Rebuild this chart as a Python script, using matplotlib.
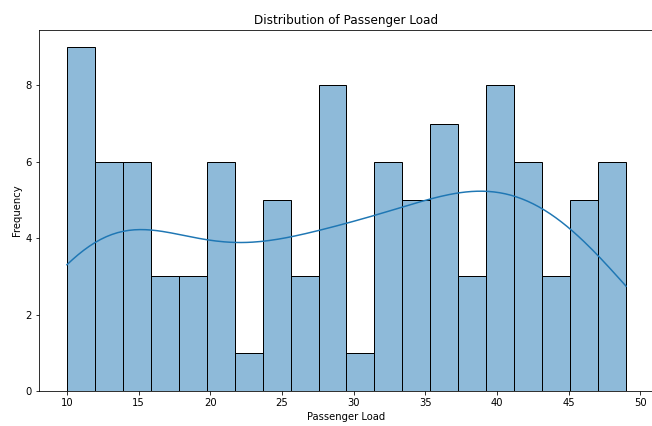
import matplotlib

matplotlib.use("Agg")
import matplotlib.pyplot as plt
import numpy as np
import seaborn as sns

# passenger load values (integers) and how many times each occurs
load_values = [10, 11, 12, 13, 14, 15, 16, 17, 18, 19,
               20, 21, 22, 23, 24, 25, 26, 27, 28, 29,
               30, 31, 32, 33, 34, 35, 36, 37, 38, 39,
               40, 41, 42, 43, 44, 45, 46, 47, 48, 49]
load_counts = [7, 2, 3, 3, 3, 3, 2, 1, 1, 2,
               4, 2, 0, 1, 2, 3, 1, 2, 4, 4,
               0, 1, 3, 3, 1, 4, 2, 5, 0, 3,
               3, 5, 4, 2, 2, 1, 2, 3, 4, 2]

passenger_load = np.repeat(load_values, load_counts)

# right edge of the axes runs just past the image, as in the reference
fig = plt.figure(figsize=(652 / 72, 426 / 72), dpi=72)
ax = fig.add_axes([39 / 652, 35 / 426, 615 / 652, 361 / 426])
sns.histplot(passenger_load, bins=20, kde=True, ax=ax)
ax.set_title("Distribution of Passenger Load")
ax.set_xlabel("Passenger Load")
ax.set_ylabel("Frequency")
fig.savefig("out.png", dpi=72)
plt.close(fig)
